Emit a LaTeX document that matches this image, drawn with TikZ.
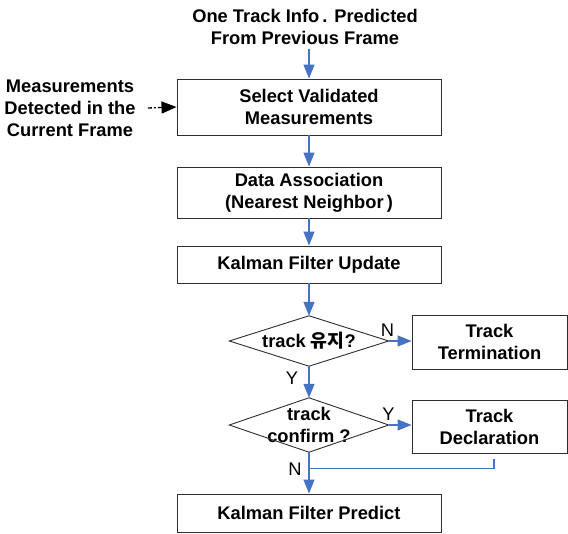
\documentclass[tikz,border=0pt]{standalone}
\usepackage{fontspec}
\setmainfont{Liberation Sans}
\newfontfamily\krfont{Noto Sans CJK KR}
\usetikzlibrary{arrows.meta,calc}
\definecolor{flowblue}{RGB}{68,114,196}
\definecolor{boxline}{RGB}{45,45,45}

\begin{document}
\begin{tikzpicture}[x=1pt,y=-1pt,
  txt/.style={font=\fontsize{18.3}{22}\selectfont\bfseries, align=center, inner sep=0pt},
  procbox/.style={txt, draw=boxline, line width=0.9pt, fill=white},
  lbl/.style={font=\fontsize{18.3}{22}\selectfont, inner sep=0pt},
  flow/.style={draw=flowblue, line width=1.3pt, -{Triangle[length=14pt,width=11pt]}},
  joinline/.style={draw=flowblue, line width=1.3pt},
  measarrow/.style={draw=black, line width=1.3pt, dash pattern=on 4pt off 2pt on 2pt off 2pt,
    -{Triangle[length=15pt,width=12pt]}},
  decision/.style={txt, minimum width=159pt},
]
\useasboundingbox (0,0) rectangle (568,534);

% inputs
\node[txt] (src) at (305,27) {One Track Info\,. Predicted\\From Previous Frame};
\node[txt] (meas) at (70,108) {Measurements\\Detected in the\\Current Frame};

% main processing chain
\node[procbox, minimum width=264pt, minimum height=56pt] (sel) at (309,107) {Select Validated\\Measurements};
\node[procbox, minimum width=264pt, minimum height=51pt] (da) at (309,192.5) {Data Association\\(Nearest Neighbor\,)};
\node[procbox, minimum width=264pt, minimum height=37pt] (kfu) at (309,264.5) {Kalman Filter Update};

% decisions (diamond outlines drawn from the node anchors)
\node[decision, minimum height=50pt] (keep) at (309,341) {track {\krfont\bfseries 유지}?};
\node[decision, minimum height=54pt] (conf) at (309,425) {track\\confirm ?};
\foreach \d in {keep,conf}
  \draw[boxline, line width=0.9pt] (\d.west) -- (\d.north) -- (\d.east) -- (\d.south) -- cycle;

\node[procbox, minimum width=155pt, minimum height=54pt] (term) at (489.5,342) {Track\\Termination};
\node[procbox, minimum width=155pt, minimum height=53pt] (decl) at (489.5,426.5) {Track\\Declaration};
\node[procbox, minimum width=264pt, minimum height=38pt] (kfp) at (309,513) {Kalman Filter Predict};

% branch labels
\node[lbl] (kn) at (387.5,330) {N};
\node[lbl] (ky) at (292,378) {Y};
\node[lbl] (cy) at (388.5,414) {Y};
\node[lbl] (cn) at (295,469) {N};

% connectors
\draw[flow] ($(sel.north |- src.south)+(0,4)$) -- (sel.north);
\draw[measarrow] ([xshift=12pt]meas.east) -- (sel.west);
\draw[flow] (sel.south) -- (da.north);
\draw[flow] (da.south) -- (kfu.north);
\draw[flow] (kfu.south) -- (keep.north);
\draw[flow] (keep.east) -- (keep.east -| term.west);
\draw[flow] (keep.south) -- (conf.north);
\draw[flow] (conf.east) -- (conf.east -| decl.west);
\draw[flow] (conf.south) -- (kfp.north);
\coordinate (merge) at ($(conf.south)+(0,16)$);
\draw[joinline] ([xshift=4.5pt,yshift=-6pt]decl.south) |- (merge);
\end{tikzpicture}
\end{document}
